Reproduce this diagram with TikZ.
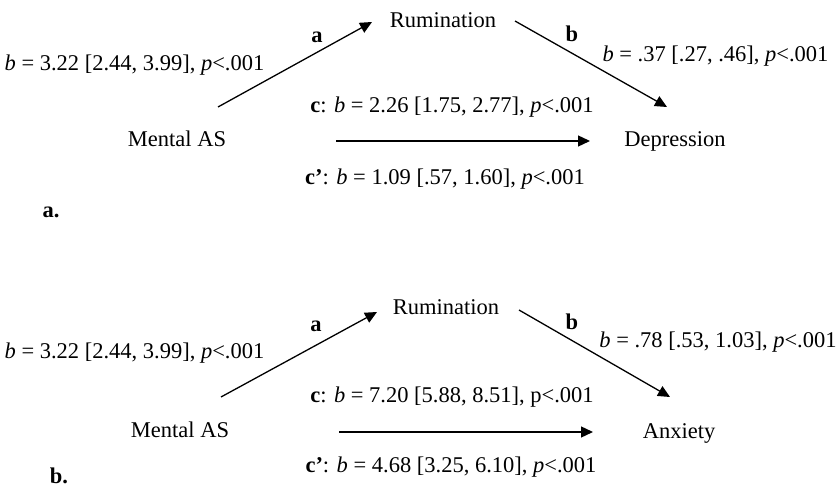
\documentclass[tikz,border=0pt]{standalone}
\usepackage{fontspec}
\setmainfont{Liberation Serif}
\usetikzlibrary{arrows.meta}
\begin{document}
\begin{tikzpicture}[x=1pt,y=-1pt,
  lbl/.style={anchor=base,inner sep=0pt,font=\fontsize{22.5}{26}\selectfont},
  conn/.style={line width=1.3pt,-{Triangle[length=12pt,width=11pt]}}]
\useasboundingbox (0,0) rectangle (836,489);
% ---- panel a ----
\node[lbl] (rum1) at (443,28) {Rumination};
\node[lbl] (mas1) at (177,147) {Mental AS};
\node[lbl] (dep1) at (675,147) {Depression};
\node[lbl] (la1) at (317,43) {\textbf{a}};
\node[lbl] (lb1) at (572,42) {\textbf{b}};
\node[lbl] (va1) at (134.5,71) {\textit{b} = 3.22 [2.44, 3.99], \textit{p}<.001};
\node[lbl] (vb1) at (715.5,62) {\textit{b} = .37 [.27, .46], \textit{p}<.001};
\node[lbl] (vc1) at (452,113) {\textbf{c}: \textit{b} = 2.26 [1.75, 2.77], \textit{p}<.001};
\node[lbl] (vcp1) at (445,185) {\textbf{c’}: \textit{b} = 1.09 [.57, 1.60], \textit{p}<.001};
\node[lbl] (pa) at (51,218) {\textbf{a.}};
\coordinate (a1s) at (218,107); \coordinate (a1e) at (372,22);
\coordinate (b1s) at (515,21); \coordinate (b1e) at (667,107);
\coordinate (c1s) at (336,141); \coordinate (c1e) at (590,141);
\draw[conn] (a1s) -- (a1e);
\draw[conn] (b1s) -- (b1e);
\draw[conn] (c1s) -- (c1e);
% ---- panel b ----
\node[lbl] (rum2) at (446,315) {Rumination};
\node[lbl] (mas2) at (180,437) {Mental AS};
\node[lbl] (anx2) at (679,438) {Anxiety};
\node[lbl] (la2) at (316,331) {\textbf{a}};
\node[lbl] (lb2) at (572,330) {\textbf{b}};
\node[lbl] (va2) at (134.5,358) {\textit{b} = 3.22 [2.44, 3.99], \textit{p}<.001};
\node[lbl] (vb2) at (718,348) {\textit{b} = .78 [.53, 1.03], \textit{p}<.001};
\node[lbl] (vc2) at (452,402) {\textbf{c}: \textit{b} = 7.20 [5.88, 8.51], p<.001};
\node[lbl] (vcp2) at (451,472) {\textbf{c’}: \textit{b} = 4.68 [3.25, 6.10], \textit{p}<.001};
\node[lbl] (pb) at (59,483) {\textbf{b.}};
\coordinate (a2s) at (221,397); \coordinate (a2e) at (377,312);
\coordinate (b2s) at (519,310); \coordinate (b2e) at (670,397);
\coordinate (c2s) at (339,432); \coordinate (c2e) at (593,432);
\draw[conn] (a2s) -- (a2e);
\draw[conn] (b2s) -- (b2e);
\draw[conn] (c2s) -- (c2e);
\end{tikzpicture}
\end{document}
